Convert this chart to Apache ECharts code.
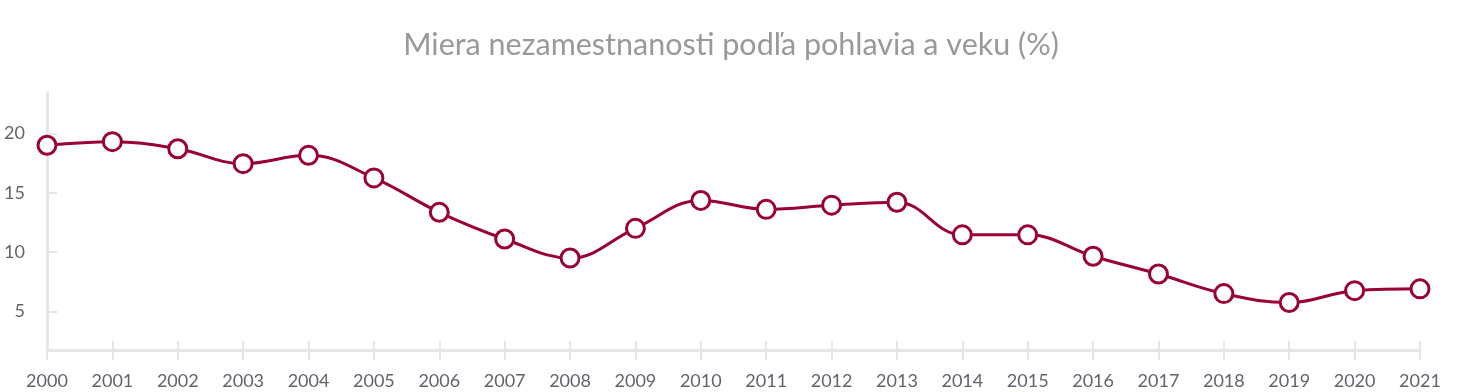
<!DOCTYPE html>
<html>
<head>
<meta charset="utf-8">
<script src="https://cdn.jsdelivr.net/npm/echarts@6/dist/echarts.min.js"></script>
<style>
html,body{margin:0;padding:0;background:#fff;}
#chart{width:1462px;height:392px;}
</style>
</head>
<body>
<div id="chart"></div>
<script>
const titleText = 'Miera nezamestnanosti podľa pohlavia a veku (%)';
const years = ['2000','2001','2002','2003','2004','2005','2006','2007','2008','2009','2010','2011','2012','2013','2014','2015','2016','2017','2018','2019','2020','2021'];
const rates = [19.0, 19.3, 18.7, 17.45, 18.15, 16.25, 13.35, 11.1, 9.5, 12.0, 14.35, 13.6, 13.95, 14.2, 11.45, 11.45, 9.65, 8.15, 6.5, 5.75, 6.75, 6.9];
const yTicks = [5, 10, 15, 20];
const yMin = 1.75;
const yMax = 23.4;

const font = 'Lato, "Noto Sans", sans-serif';
const chart = echarts.init(document.getElementById('chart'), null, {renderer: 'canvas'});
chart.setOption({
  animation: false,
  backgroundColor: '#ffffff',
  title: {
    text: titleText,
    left: 'center',
    top: 25,
    textStyle: {color: '#999999', fontSize: 30.5, fontWeight: 'normal', fontFamily: font}
  },
  grid: {left: 47, right: 42, top: 93, bottom: 42, containLabel: false},
  xAxis: [{
    type: 'category',
    data: years,
    boundaryGap: false,
    axisLine: {lineStyle: {color: '#e6e6e6', width: 3}},
    axisTick: {show: true, length: 10, inside: false, lineStyle: {color: '#e6e6e6', width: 2}},
    axisLabel: {color: '#66626e', fontSize: 18, fontFamily: font, margin: 22},
    splitLine: {show: false}
  }, {
    type: 'category',
    data: years,
    position: 'bottom',
    boundaryGap: false,
    axisLine: {show: false},
    axisTick: {show: true, length: 9, inside: true, lineStyle: {color: '#e6e6e6', width: 2}},
    axisLabel: {show: false},
    splitLine: {show: false}
  }],
  yAxis: {
    type: 'value',
    min: yMin,
    max: yMax,
    axisLine: {show: true, lineStyle: {color: '#e6e6e6', width: 3}},
    axisTick: {show: true, inside: true, length: 10, customValues: yTicks, lineStyle: {color: '#e6e6e6', width: 2}},
    axisLabel: {color: '#66626e', fontSize: 18, fontFamily: font, margin: 22, customValues: yTicks},
    splitLine: {show: false}
  },
  series: [{
    type: 'line',
    data: rates,
    smooth: 0.4,
    clip: false,
    symbol: 'circle',
    symbolSize: 18,
    lineStyle: {color: '#990033', width: 3},
    itemStyle: {color: '#ffffff', borderColor: '#990033', borderWidth: 3},
    z: 5
  }]
});
</script>
</body>
</html>
